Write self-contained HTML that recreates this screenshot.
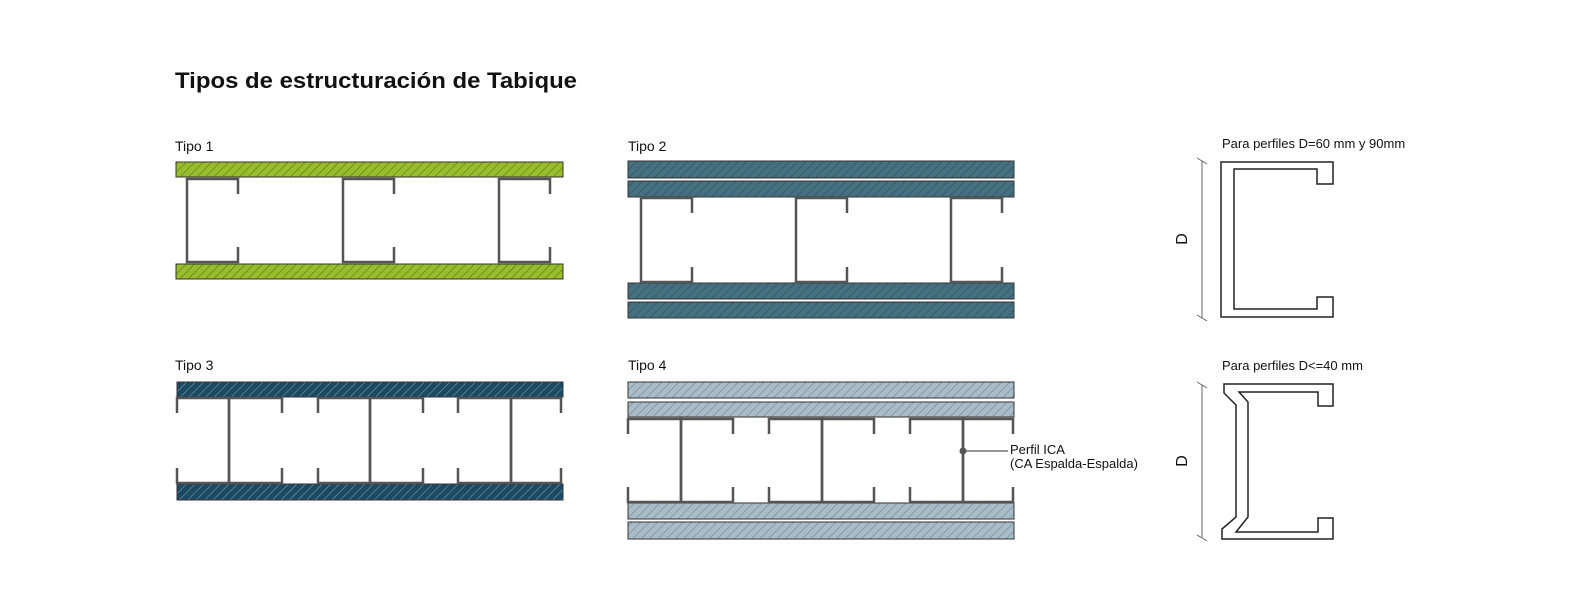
<!DOCTYPE html>
<html><head><meta charset="utf-8"><style>
html,body{margin:0;padding:0;background:#fff;}
svg{display:block;}
text{font-family:"Liberation Sans",sans-serif;fill:#111;}
</style></head><body>
<svg width="1582" height="614" viewBox="0 0 1582 614" xmlns="http://www.w3.org/2000/svg">
<defs>
<pattern id="pg" width="6" height="6" patternUnits="userSpaceOnUse" patternTransform="rotate(45)"><rect width="6" height="6" fill="#98bd2c"/><line x1="0" y1="0" x2="0" y2="6" stroke="#5e7a18" stroke-width="1.3"/></pattern>
<pattern id="pb" width="6" height="6" patternUnits="userSpaceOnUse" patternTransform="rotate(45)"><rect width="6" height="6" fill="#46707f"/><line x1="0" y1="0" x2="0" y2="6" stroke="#2f5260" stroke-width="1.3"/></pattern>
<pattern id="pd" width="6" height="6" patternUnits="userSpaceOnUse" patternTransform="rotate(45)"><rect width="6" height="6" fill="#1c4a63"/><line x1="0" y1="0" x2="0" y2="6" stroke="#8aa9b8" stroke-width="1"/></pattern>
<pattern id="pl" width="6" height="6" patternUnits="userSpaceOnUse" patternTransform="rotate(45)"><rect width="6" height="6" fill="#a9bdc8"/><line x1="0" y1="0" x2="0" y2="6" stroke="#6f8793" stroke-width="1.2"/></pattern>
</defs>

<text x="175" y="88" font-size="22" font-weight="bold" textLength="402" lengthAdjust="spacingAndGlyphs">Tipos de estructuración de Tabique</text>

<text x="175" y="151" font-size="14">Tipo 1</text>
<text x="628" y="151" font-size="14">Tipo 2</text>
<text x="175" y="370" font-size="14">Tipo 3</text>
<text x="628" y="370" font-size="14">Tipo 4</text>

<g stroke="#333" stroke-width="1">
<rect x="176" y="162" width="387" height="15" fill="url(#pg)"/>
<rect x="176" y="264" width="387" height="15" fill="url(#pg)"/>
<rect x="628" y="161" width="386" height="17" fill="url(#pb)"/>
<rect x="628" y="181" width="386" height="16" fill="url(#pb)"/>
<rect x="628" y="283" width="386" height="16" fill="url(#pb)"/>
<rect x="628" y="302" width="386" height="16" fill="url(#pb)"/>
<rect x="177" y="382" width="386" height="15" fill="url(#pd)"/>
<rect x="177" y="484" width="386" height="16" fill="url(#pd)"/>
<rect x="628" y="382" width="386" height="16" fill="url(#pl)"/>
<rect x="628" y="402" width="386" height="15" fill="url(#pl)"/>
<rect x="628" y="503" width="386" height="16" fill="url(#pl)"/>
<rect x="628" y="522" width="386" height="17" fill="url(#pl)"/>
</g>

<g fill="none" stroke="#555" stroke-width="2.5" stroke-linejoin="miter">
<path d="M238 194V179H187V262H238V247"/>
<path d="M394 194V179H343V262H394V247"/>
<path d="M550 194V179H499V262H550V247"/>
<path d="M692 213V198H641V282H692V267"/>
<path d="M847 213V198H796V282H847V267"/>
<path d="M1002 213V198H951V282H1002V267"/>
<path d="M177 413V398H229V483H177V468"/>
<path d="M282 413V398H229V483H282V468"/>
<path d="M318 413V398H370V483H318V468"/>
<path d="M423 413V398H370V483H423V468"/>
<path d="M458 413V398H511V483H458V468"/>
<path d="M561 413V398H511V483H561V468"/>
<path d="M628 434V419H681V502H628V487"/>
<path d="M733 434V419H681V502H733V487"/>
<path d="M769 434V419H822V502H769V487"/>
<path d="M874 434V419H822V502H874V487"/>
<path d="M910 434V419H963V502H910V487"/>
<path d="M1013 434V419H963V502H1013V487"/>
</g>

<circle cx="963" cy="451" r="3.5" fill="#555"/>
<line x1="963" y1="451" x2="1008" y2="451" stroke="#555" stroke-width="1.2"/>
<text x="1010" y="454" font-size="13">Perfil ICA</text>
<text x="1010" y="468" font-size="13">(CA Espalda-Espalda)</text>

<text x="1222" y="148" font-size="13">Para perfiles D=60 mm y 90mm</text>
<path d="M1221 162H1333V184H1317V169H1234V309H1317V297H1333V317H1221Z" fill="none" stroke="#222" stroke-width="1.5"/>
<g stroke="#666" stroke-width="1">
<line x1="1202" y1="161" x2="1202" y2="318"/>
<line x1="1197" y1="158" x2="1207" y2="164"/>
<line x1="1197" y1="315" x2="1207" y2="321"/>
</g>
<text x="0" y="0" font-size="16" font-weight="500" transform="translate(1187,239) rotate(-90)" text-anchor="middle">D</text>

<text x="1222" y="370" font-size="13">Para perfiles D&lt;=40 mm</text>
<path d="M1224 384H1333V406H1318V392H1239L1248 402V517L1236 532H1318V518H1333V539H1222V529L1236 517V405L1224 393Z" fill="none" stroke="#222" stroke-width="1.5"/>
<g stroke="#666" stroke-width="1">
<line x1="1202" y1="385" x2="1202" y2="538"/>
<line x1="1197" y1="382" x2="1207" y2="388"/>
<line x1="1197" y1="535" x2="1207" y2="541"/>
</g>
<text x="0" y="0" font-size="16" font-weight="500" transform="translate(1187,461) rotate(-90)" text-anchor="middle">D</text>
</svg>
</body></html>
